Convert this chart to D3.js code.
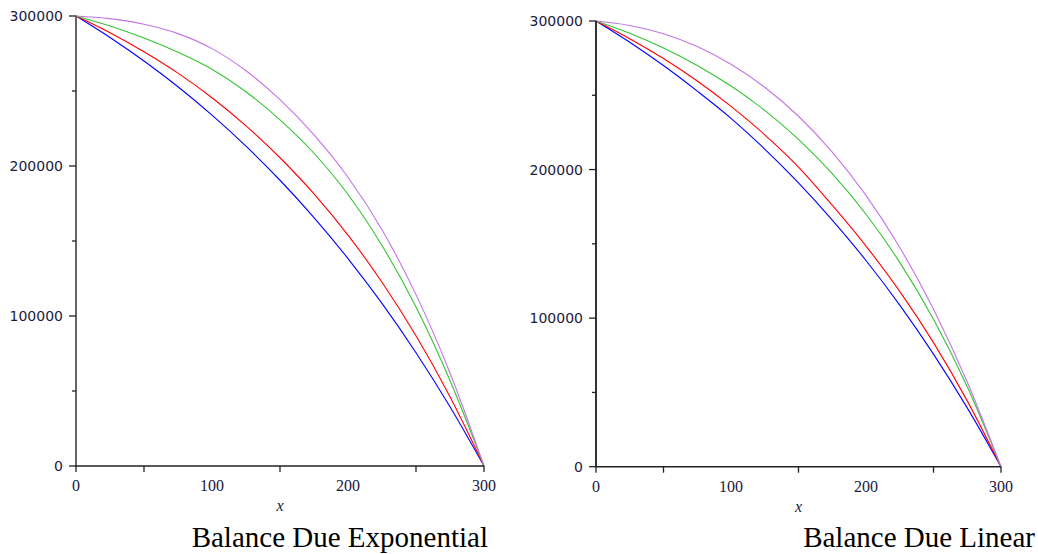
<!DOCTYPE html>
<html>
<head>
<meta charset="utf-8">
<script src="https://cdn.jsdelivr.net/npm/d3@7"></script>
<style>
  body { margin: 0; background: #fff; }
  svg { display: block; }
  .tick-label-y { font-family: "DejaVu Sans", Verdana, sans-serif; font-size: 14px; fill: #1a1a40; }
  .tick-label-x { font-family: "Liberation Serif", "Times New Roman", serif; font-size: 16px; fill: #1a1a40; }
  .axis-title { font-family: "Liberation Serif", serif; font-style: italic; font-size: 16px; fill: #1a1a40; }
  .panel-title { font-family: "Liberation Serif", "Times New Roman", serif; font-size: 29px; fill: #000; }
</style>
</head>
<body>
<svg id="chart"></svg>
<script>
const months = [0, 25, 50, 75, 100, 125, 150, 175, 200, 225, 250, 275, 300];

// Balance Due Exponential
const expBlue   = [300000, 285700, 270000, 252800, 233900, 213200, 190500, 165600, 138300, 108400, 75500, 39500, 0];
const expRed    = [300000, 288900, 276200, 261900, 245500, 226800, 205500, 181400, 153900, 122500, 86800, 46200, 0];
const expGreen  = [300000, 293300, 285300, 275800, 264500, 249500, 230800, 208500, 181000, 147000, 106000, 57000, 0];
const expPurple = [300000, 298250, 294500, 288250, 278250, 263500, 244250, 220750, 192500, 157500, 114250, 62000, 0];

// Balance Due Linear
const linBlue   = [300000, 285700, 270000, 252800, 234500, 213800, 191000, 166000, 138800, 108800, 75800, 39600, 0];
const linRed    = [300000, 288100, 274700, 259600, 242500, 223400, 201700, 176000, 148500, 118000, 83500, 44300, 0];
const linGreen  = [300000, 291700, 281800, 270100, 256200, 239800, 220300, 197200, 169900, 137500, 99200, 53800, 0];
const linPurple = [300000, 297000, 291400, 282800, 270900, 255400, 235900, 211800, 182600, 147600, 106000, 57000, 0];

const seriesColors = ['#0000ff', '#ff0000', '#33c433', '#c474e6'];

const xTicks = [0, 100, 200, 300];
const xMarks = [0, 50, 150, 250, 300];
const yTicks = [0, 100000, 200000, 300000];
const yMinor = [50000, 150000, 250000];

const svg = d3.select('#chart').attr('width', 1038).attr('height', 554);

function drawPanel(cfg) {
	const x = d3.scaleLinear().domain([0, 300]).range([cfg.left, cfg.right]);
	const y = d3.scaleLinear().domain([0, 300000]).range([cfg.bottom, cfg.top]);

	const g = svg.append('g');

	// curves
	const line = d3.line()
		.x((d, i) => x(months[i]))
		.y(d => y(d))
		.curve(d3.curveMonotoneX);

	g.selectAll('.curve')
		.data(cfg.series)
		.join('path')
		.attr('class', 'curve')
		.attr('fill', 'none')
		.attr('stroke', (d, i) => seriesColors[i])
		.attr('stroke-width', 1.1)
		.attr('d', d => line(d));

	// y axis
	g.append('line')
		.attr('x1', x(0)).attr('x2', x(0))
		.attr('y1', y(0)).attr('y2', y(300000))
		.attr('stroke', cfg.yAxisColor).attr('stroke-width', 2);
	g.selectAll('.ytick')
		.data(yTicks)
		.join('line')
		.attr('x1', x(0) - 7).attr('x2', x(0))
		.attr('y1', d => y(d)).attr('y2', d => y(d))
		.attr('stroke', '#222').attr('stroke-width', 1.3);
	g.selectAll('.yminor')
		.data(yMinor)
		.join('line')
		.attr('x1', x(0) - 4).attr('x2', x(0))
		.attr('y1', d => y(d)).attr('y2', d => y(d))
		.attr('stroke', '#222').attr('stroke-width', 1.3);
	g.selectAll('.ylabel')
		.data(yTicks)
		.join('text')
		.attr('class', 'tick-label-y')
		.attr('x', x(0) - 13)
		.attr('y', d => y(d))
		.attr('dy', '0.36em')
		.attr('text-anchor', 'end')
		.text(d => d);

	// x axis
	g.append('line')
		.attr('x1', x(0) - 1).attr('x2', x(300))
		.attr('y1', y(0)).attr('y2', y(0))
		.attr('stroke', '#222').attr('stroke-width', 1.5);
	g.selectAll('.xtick')
		.data(xMarks)
		.join('line')
		.attr('x1', d => x(d)).attr('x2', d => x(d))
		.attr('y1', y(0)).attr('y2', y(0) + 6)
		.attr('stroke', '#222').attr('stroke-width', 1.3);
	g.selectAll('.xlabel')
		.data(xTicks)
		.join('text')
		.attr('class', 'tick-label-x')
		.attr('x', d => x(d))
		.attr('y', y(0) + 25)
		.attr('text-anchor', 'middle')
		.text(d => d);

	g.append('text')
		.attr('class', 'axis-title')
		.attr('x', x(150))
		.attr('y', y(0) + 45)
		.attr('text-anchor', 'middle')
		.text('x');

	g.append('text')
		.attr('class', 'panel-title')
		.attr('x', cfg.titleX)
		.attr('y', 547)
		.attr('text-anchor', 'end')
		.text(cfg.title);
}

drawPanel({
	left: 76, right: 484, top: 16, bottom: 466, yAxisColor: '#666',
	series: [expBlue, expRed, expGreen, expPurple],
	title: 'Balance Due Exponential', titleX: 488
});

drawPanel({
	left: 596, right: 1001, top: 21, bottom: 466.7, yAxisColor: '#333',
	series: [linBlue, linRed, linGreen, linPurple],
	title: 'Balance Due Linear', titleX: 1035
});
</script>
</body>
</html>
